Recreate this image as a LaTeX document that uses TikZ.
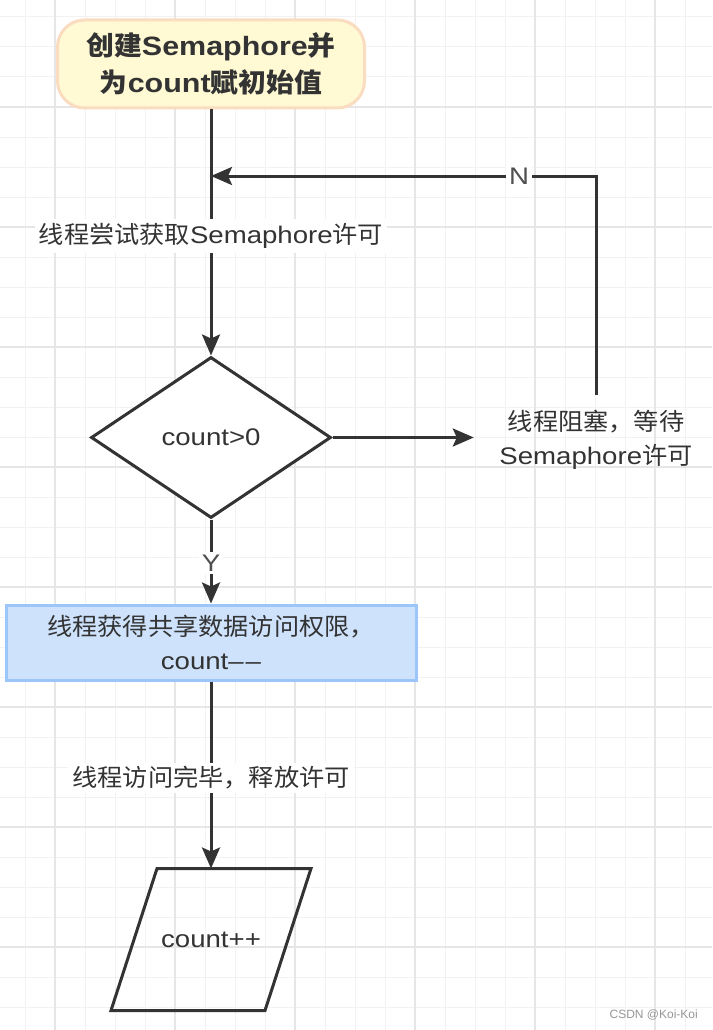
\documentclass[tikz,border=0pt]{standalone}
\usepackage{fontspec}
\usetikzlibrary{arrows.meta,shapes.geometric}
\newfontfamily\lat{Liberation Sans}[FakeStretch=1.15]
\newfontfamily\cjk{Noto Sans CJK SC}[FakeStretch=1.05]
\newfontfamily\wmfont{Liberation Sans}
\newcommand\zh[1]{{\cjk #1}}
\definecolor{ink}{RGB}{51,51,51}
\definecolor{softink}{RGB}{80,80,80}
\definecolor{gridminor}{RGB}{242,242,242}
\definecolor{gridmajor}{RGB}{230,230,230}
\definecolor{startfill}{RGB}{255,250,212}
\definecolor{startedge}{RGB}{250,220,192}
\definecolor{rectfill}{RGB}{206,226,252}
\definecolor{rectedge}{RGB}{155,198,250}
\definecolor{wmgray}{RGB}{150,150,150}
\tikzset{
  conn/.style={draw=ink, line width=3pt, -{Stealth[length=21pt,width=18pt,inset=4pt]}},
  plainline/.style={draw=ink, line width=3pt},
  labelfont/.style={font=\lat\fontsize{24}{34}\selectfont},
  startbox/.style={draw=startedge, fill=startfill, line width=3pt, rounded corners=27pt,
    minimum width=307pt, minimum height=88pt, align=center, inner sep=0pt, text=ink,
    font=\lat\bfseries\fontsize{26.5}{37}\selectfont},
  decision/.style={diamond, draw=ink, fill=white, line width=3pt, minimum width=240pt,
    minimum height=161pt, inner sep=0pt, aspect=1.5, text=ink, labelfont},
  blocktext/.style={align=center, inner sep=0pt, text=ink, labelfont},
  actbox/.style={draw=rectedge, fill=rectfill, line width=3pt, minimum width=410pt,
    minimum height=75pt, inner sep=0pt, align=center, text=ink, labelfont},
  iotext/.style={minimum height=139pt, minimum width=200pt, inner sep=0pt, outer sep=1.5pt,
    text=ink, labelfont},
  edgelabel/.style={fill=white, inner sep=4pt, text=ink, labelfont},
  branchlabel/.style={fill=white, inner sep=3pt, text=softink, labelfont},
  wmstyle/.style={text=wmgray, inner sep=0pt, font=\wmfont\fontsize{12}{14}\selectfont}
}
\begin{document}
\begin{tikzpicture}[x=1pt,y=-1pt]
\useasboundingbox (0,0) rectangle (712,1030);
\fill[white] (0,0) rectangle (712,1030);
% grid
\foreach \gx in {25,55,...,685} \draw[gridminor, line width=1pt] (\gx,0) -- (\gx,1030);
\foreach \gy in {17,47,...,1007} \draw[gridminor, line width=1pt] (0,\gy) -- (712,\gy);
\foreach \gx in {55,175,...,655} \draw[gridmajor, line width=1.2pt] (\gx,0) -- (\gx,1030);
\foreach \gy in {107,227,...,947} \draw[gridmajor, line width=1.2pt] (0,\gy) -- (712,\gy);

% nodes
\node[startbox] (start) at (211,64) {\zh{创建}Semaphore\zh{并}\\\zh{为}count\zh{赋初始值}};
\node[decision] (dec) at (211,437.5) {count>0};
\node[blocktext, minimum width=244pt, minimum height=90pt] (block) at (596,440)
  {\zh{线程阻塞，等待}\\Semaphore\zh{许可}};
\node[actbox] (act) at (211,642.5) {\zh{线程获得共享数据访问权限，}\\count–\kern2pt–};
\node[iotext] (io) at (211,939.5) {count++};
\draw[plainline, line join=miter] ([xshift=-54pt]io.north) -- ([xshift=100pt]io.north)
  -- ([xshift=54pt]io.south) -- ([xshift=-100pt]io.south) -- cycle;
\coordinate (join) at (211,176);
\node[wmstyle, anchor=east] (wm) at (698,1015) {CSDN @Koi-Koi};

% connectors
\draw[conn] (start) -- node[edgelabel, pos=0.514] {\zh{线程尝试获取}Semaphore\zh{许可}} (dec);
\draw[conn] (dec.east) -- (block.west |- dec.east);
\draw[conn] (block.north) |- node[branchlabel, pos=0.6] {N} (join);
\draw[conn] (dec) -- node[branchlabel, pos=0.52] {Y} (act);
\draw[conn] (act) -- node[edgelabel, pos=0.516] {\zh{线程访问完毕，释放许可}} (io);
\end{tikzpicture}
\end{document}
